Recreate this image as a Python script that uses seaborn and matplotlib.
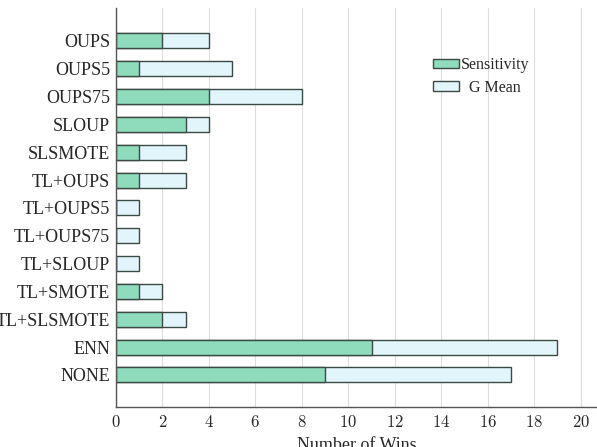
import pandas as pd
import seaborn as sns
import matplotlib.pyplot as plt

methods = ['OUPS', 'OUPS5', 'OUPS75', 'SLOUP', 'SLSMOTE', 'TL+OUPS', 'TL+OUPS5',
           'TL+OUPS75', 'TL+SLOUP', 'TL+SMOTE', 'TL+SLSMOTE', 'ENN', 'NONE']
sensitivity = [2, 1, 4, 3, 1, 1, 0, 0, 0, 1, 2, 11, 9]
gmean = [2, 4, 4, 1, 2, 2, 1, 1, 1, 1, 1, 8, 8]

d = pd.DataFrame({'Method': methods, 'Sensitivity': sensitivity, 'G Mean': gmean})
d['Total'] = d['Sensitivity'] + d['G Mean']

sns.set_style('white')
plt.rcParams['font.family'] = ['Liberation Serif', 'DejaVu Serif']
plt.rcParams['mathtext.fontset'] = 'cm'

green = '#8fdcbc'
blue = '#e2f5fb'
edge = '#3a4a44'

fig = plt.figure(figsize=(5.97, 4.47), dpi=100)
ax = fig.add_axes([0.194, 0.0895, 0.806, 0.893])

sns.barplot(data=d, y='Method', x='Total', orient='h', color=blue, edgecolor=edge,
            linewidth=1.0, width=0.54, saturation=1, label='  G Mean', ax=ax)
sns.barplot(data=d, y='Method', x='Sensitivity', orient='h', color=green, edgecolor=edge,
            linewidth=1.0, width=0.54, saturation=1, label='Sensitivity', ax=ax)

ax.set_xlim(0, 20.7)
ax.set_ylim(12 + 1.15, -1.19)
ax.set_xticks(range(0, 21, 2))
ax.set_xticklabels(['$%d$' % v for v in range(0, 21, 2)], fontsize=12)
ax.tick_params(axis='y', labelsize=13, length=0, pad=4)
ax.tick_params(axis='x', length=0, pad=6)
ax.grid(axis='x', color='#dddddd', linewidth=0.8)
ax.set_axisbelow(True)
for s in ['top', 'right']:
    ax.spines[s].set_visible(False)
for s in ['left', 'bottom']:
    ax.spines[s].set_color('#555555')
    ax.spines[s].set_linewidth(1.0)
ax.set_ylabel('')
ax.set_xlabel('Number of Wins', fontsize=13, labelpad=4)

h, l = ax.get_legend_handles_labels()
ax.legend(h[::-1], l[::-1], loc='upper right', bbox_to_anchor=(0.89, 0.912), frameon=False,
          fontsize=11.5, handlelength=1.6, handleheight=0.55, handletextpad=0.15,
          labelspacing=0.4)

fig.savefig('out.png', dpi=100)
